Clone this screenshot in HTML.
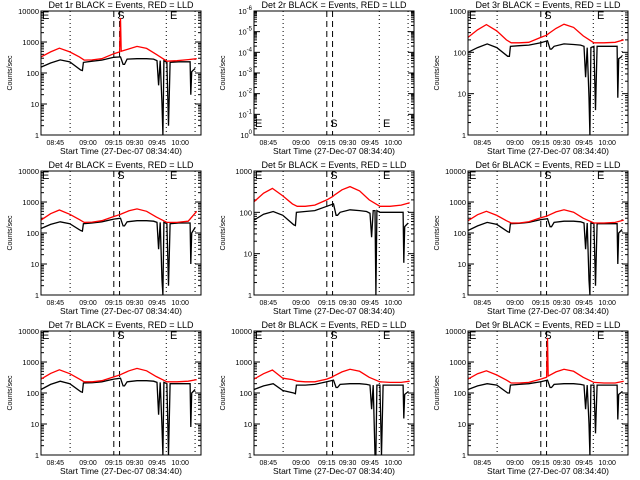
<!DOCTYPE html>
<html><head><meta charset="utf-8"><style>
body{margin:0;background:#fff}svg{display:block}
text{font-family:"Liberation Sans",sans-serif;fill:#000}
</style></head><body>
<svg id="c" width="640" height="480" viewBox="0 0 640 480"></svg>
<script>
const TB=[0,6,12,18,24.8,25.9,26.5,32,38,45.5,49.7,51.3,52.2,53.8,60,66,70.4,72.5,73.5,74.5,75.6,76.2,76.8,78.7,79.7,80.7,86,93.2,93.6,94.2,96.3];
const TR=[0,6,11.5,18,24,27,32,38,45.5,49.1,49.7,50.1,55,60,66,72,78.7,85,92,97.3];
const TICK_LABELS=["08:45","09:00","09:15","09:30","09:45","10:00"];
const TICK_TIMES=[8.9,29.4,45.5,58.5,72.5,87];
const DOTTED_TIMES=[18.2,78.3,96.3];
const DASHED_TIMES=[45.5,49.1];
const MARK_TIMES=[0,47,80];
const MARK_LETTERS=["E","S","E"];
const DETS=["1r","2r","3r","4r","5r","6r","7r","8r","9r"];
const YMAX_DEC=[4,null,3,4,3,4,4,4,4];
const BLACK_1=[155,210,265,230,125,120,220,240,260,320,330,190,190,280,290,290,280,250,40,250,10,1,250,220,2,220,230,230,20,110,140];
const RED_1=[330,480,630,480,330,260,265,290,420,480,6000,500,600,720,620,400,240,250,270,290];
const BLACK_3=[100,130,160,130,80,80,140,145,150,170,190,120,120,140,160,155,150,140,25,130,8,1,130,140,4,140,140,140,8,70,80];
const RED_3=[230,350,470,330,200,170,170,175,230,260,270,280,380,480,400,250,170,170,175,200];
const BLACK_4=[140,190,230,200,120,115,200,210,230,280,300,170,170,230,250,250,240,220,30,220,3,1,220,200,2,200,210,210,10,100,150];
const RED_4=[260,420,550,400,270,220,225,250,340,390,400,410,520,600,500,330,220,220,240,500];
const BLACK_5=[65,90,105,85,50,48,100,105,110,140,160,85,85,100,115,110,105,95,25,110,110,1,110,100,100,100,100,100,6,45,55];
const RED_5=[180,290,380,250,160,140,140,150,200,240,250,260,350,420,330,200,140,140,150,170];
const BLACK_6=[120,170,220,190,110,105,200,205,220,270,290,160,160,220,240,240,230,210,30,210,3,1,210,200,2,200,200,200,10,100,130];
const RED_6=[250,390,500,370,250,210,210,230,310,350,360,370,480,560,470,300,210,210,220,260];
const BLACK_7=[130,190,240,200,110,105,210,215,230,280,300,170,170,230,250,250,240,220,20,220,8,1,220,200,1,200,200,200,8,100,130];
const RED_7=[280,430,560,420,280,230,230,250,330,380,390,400,520,620,520,340,230,230,240,270];
const BLACK_8=[130,170,200,120,100,95,180,180,190,230,260,150,150,190,200,200,190,180,30,180,1,1,180,180,1,180,180,180,15,90,110];
const RED_8=[280,420,550,300,270,240,230,230,280,330,350,360,480,580,500,320,230,220,220,240];
const BLACK_9=[130,170,200,180,100,100,180,190,200,230,260,150,150,190,200,200,190,180,30,180,10,1,180,180,5,180,180,180,14,90,110];
const RED_9=[280,420,520,380,260,210,210,220,280,320,6000,350,480,580,500,320,220,210,210,240];
const BLACKS=[BLACK_1,null,BLACK_3,BLACK_4,BLACK_5,BLACK_6,BLACK_7,BLACK_8,BLACK_9];
const REDS=[RED_1,null,RED_3,RED_4,RED_5,RED_6,RED_7,RED_8,RED_9];

const NS="http://www.w3.org/2000/svg";
const svg=document.getElementById('c');
const L=41,R=201,T=11,B=135;
function mk(tag,a,p){const e=document.createElementNS(NS,tag);for(const k in a)e.setAttribute(k,a[k]);p.appendChild(e);return e;}
function xS(m){return L+m*(R-L)/100;}

DETS.forEach((d,i)=>{
  const ox=Math.round((i%3)*213.33), oy=Math.floor(i/3)*160;
  const g=mk('g',{transform:`translate(${ox},${oy})`},svg);
  
  
  const dec=YMAX_DEC[i];
  const nd=dec===null?6:dec;
  const yS=v=>B-(Math.log10(v))*(B-T)/nd;
  const t=mk('text',{x:121,y:8,'font-size':9,'text-anchor':'middle'},g);
  t.textContent=`Det ${d} BLACK = Events, RED = LLD`;
  
  
  const yl=mk('text',{x:0,y:0,'font-size':7,'text-anchor':'middle',transform:'translate(12,73) rotate(-90)'},g);
  yl.textContent='Counts/sec';
  
  
  const xl=mk('text',{x:121,y:154,'font-size':8.5,'text-anchor':'middle'},g);
  xl.textContent='Start Time (27-Dec-07 08:34:40)';
  
  
  TICK_LABELS.forEach((lb,k)=>{
    const e=mk('text',{x:xS(TICK_TIMES[k]),y:145,'font-size':7,'text-anchor':'middle'},g);
    e.textContent=lb;
    
    
  });
  for(let k=0;k<=nd;k++){
    const y=B-k*(B-T)/nd;
    const e=mk('text',{x:39,y:y+3,'font-size':7.5,'text-anchor':'end'},g);
    if(dec===null){e.textContent='10';const s=mk('tspan',{dy:-4,'font-size':6},e);s.textContent=(k===0?'0':'-'+k);}
    else e.textContent=String(Math.pow(10,k));
    
    
    [[L,L+6],[R,R-6]].forEach(([a,b2])=>mk('line',{x1:a,x2:b2,y1:y,y2:y,stroke:'#000','stroke-width':1},g));
    if(k<nd)for(let m=2;m<10;m++){const yy=y-Math.log10(m)*(B-T)/nd;
      [[L,L+3],[R,R-3]].forEach(([a,b2])=>mk('line',{x1:a,x2:b2,y1:yy,y2:yy,stroke:'#000','stroke-width':1},g));}
  }
  DOTTED_TIMES.forEach(m=>{const e=mk('line',{x1:xS(m),x2:xS(m),y1:T,y2:B,stroke:'#000','stroke-dasharray':'1,3'},g);
    });
  DASHED_TIMES.forEach(m=>{const e=mk('line',{x1:xS(m),x2:xS(m),y1:T,y2:B,stroke:'#000','stroke-dasharray':'6,4'},g);
    });
  MARK_TIMES.forEach((m,k)=>{const e=mk('text',{x:xS(m)+1,y:dec===null?127:19,'font-size':11},g);
    e.textContent=MARK_LETTERS[k];
    });
  if(dec!==null){
    const pts=(ts,vs)=>ts.map((tm,k)=>xS(tm).toFixed(1)+','+Math.min(B,Math.max(T,yS(vs[k]))).toFixed(1)).join(' ');
    const bl=mk('polyline',{points:pts(TB,BLACKS[i]),fill:'none',stroke:'#000','stroke-width':1.3},g);
    
    
    const rl=mk('polyline',{points:pts(TR,REDS[i]),fill:'none',stroke:'#f00','stroke-width':1.3},g);
    
    
  }
  const fr=mk('rect',{x:L,y:T,width:R-L,height:B-T,fill:'none',stroke:'#000','stroke-width':1},g);
  
  
});
</script>
</body></html>
